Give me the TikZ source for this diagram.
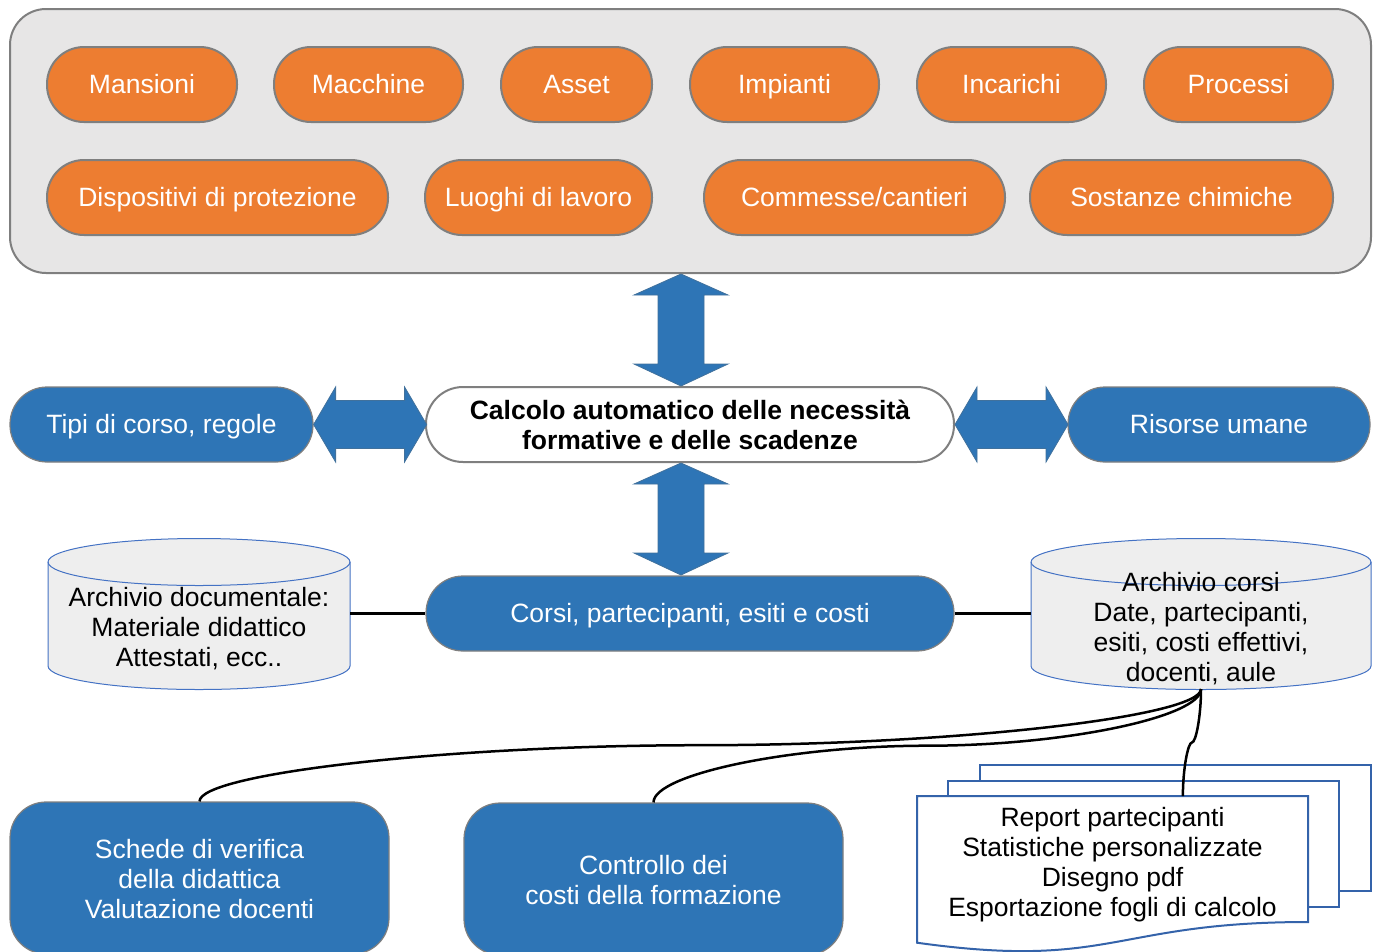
\documentclass[tikz,border=0pt]{standalone}
\usepackage{fontspec}
\setmainfont{Liberation Sans}
\usetikzlibrary{calc}
\definecolor{orangeF}{HTML}{ED7D31}
\definecolor{blueF}{HTML}{2E75B6}
\definecolor{grayB}{HTML}{7F7F7F}
\definecolor{boxF}{HTML}{E7E6E6}
\definecolor{cylF}{HTML}{EEEEEE}
\definecolor{cylB}{HTML}{4472C4}
\definecolor{docB}{HTML}{3463AA}
\definecolor{arrB}{HTML}{41719C}
\newcommand{\txtstrut}{\rule[-6pt]{0pt}{30.8pt}}
\newcommand{\mts}{\rule[-6pt]{0pt}{32.8pt}}
\begin{document}
\begin{tikzpicture}[x=1pt,y=1pt,
  txt/.style={font=\fontsize{26.5}{30}\selectfont, align=center, execute at begin node=\txtstrut, execute at end node=\txtstrut},
  opill/.style={txt, text=white, fill=orangeF, draw=grayB, line width=2pt, rounded corners=37pt, minimum height=75pt, inner sep=0pt},
  bpill/.style={txt, text=white, fill=blueF, draw=grayB, line width=1.2pt, rounded corners=37pt, minimum height=75pt, inner sep=0pt},
  wpill/.style={txt, font=\fontsize{26.5}{30}\selectfont\bfseries, fill=white, draw=grayB, line width=2pt, rounded corners=37pt, minimum height=75pt, inner sep=0pt},
  bbox/.style={txt, text=white, fill=blueF, draw=grayB, line width=1.2pt, rounded corners=36pt, minimum width=379pt, minimum height=152pt, inner sep=0pt},
  blockarrow/.style={fill=blueF, draw=arrB, line width=0.8pt, line join=miter},
  conn/.style={draw=black, line width=2.2pt},
  cyl/.style={fill=cylF, draw=cylB, line width=1pt},
  docshape/.style={fill=white, draw=docB, line width=2pt},
  holder/.style={inner sep=0pt, outer sep=0pt}]
\useasboundingbox (0,0) rectangle (1379,-951);

% top group box
\node[holder, fill=boxF, draw=grayB, line width=2pt, rounded corners=36pt, minimum width=1361pt, minimum height=264pt] (topbox) at (690.5,-141) {};

% orange pills
\node[opill, minimum width=190pt] (mansioni) at (142,-84.5) {Mansioni};
\node[opill, minimum width=189pt] (macchine) at (368.5,-84.5) {Macchine};
\node[opill, minimum width=151pt] (asset) at (576.5,-84.5) {Asset};
\node[opill, minimum width=189pt] (impianti) at (784.5,-84.5) {Impianti};
\node[opill, minimum width=189pt] (incarichi) at (1011.5,-84.5) {Incarichi};
\node[opill, minimum width=189pt] (processi) at (1238.5,-84.5) {Processi};
\node[opill, minimum width=341pt] (dispositivi) at (217.5,-197.5) {Dispositivi di protezione};
\node[opill, minimum width=227pt] (luoghi) at (538.5,-197.5) {Luoghi di lavoro};
\node[opill, minimum width=301pt] (commesse) at (854.5,-197.5) {Commesse/cantieri};
\node[opill, minimum width=303pt] (sostanze) at (1181.5,-197.5) {Sostanze chimiche};

% middle row
\node[bpill, minimum width=303pt] (tipi) at (161.5,-424.5) {Tipi di corso, regole};
\node[wpill, minimum width=528pt] (calc) at (690,-424.5) {\mts Calcolo automatico delle necessità\\formative e delle scadenze};
\node[bpill, minimum width=302pt] (risorse) at (1219,-424.5) {Risorse umane};
\node[bpill, minimum width=528pt] (corsi) at (690,-613.5) {Corsi, partecipanti, esiti e costi};

% block arrows
\coordinate (va1) at (681,-274);
\coordinate (va2) at (681,-463);
\path[blockarrow] (va1) -- +(47,-21) -- +(23,-21) -- +(23,-90) -- +(47,-90) -- +(0,-112) -- +(-47,-90) -- +(-23,-90) -- +(-23,-21) -- +(-47,-21) -- cycle;
\path[blockarrow] (va2) -- +(47,-21) -- +(23,-21) -- +(23,-90) -- +(47,-90) -- +(0,-112) -- +(-47,-90) -- +(-23,-90) -- +(-23,-21) -- +(-47,-21) -- cycle;
\path[blockarrow] (tipi.east) -- +(22,37.5) -- +(22,24) -- +(91,24) -- +(91,37.5) -- +(113,0) -- +(91,-37.5) -- +(91,-24) -- +(22,-24) -- +(22,-37.5) -- cycle;
\path[blockarrow] (calc.east) -- +(22,37.5) -- +(22,24) -- +(91,24) -- +(91,37.5) -- +(113,0) -- +(91,-37.5) -- +(91,-24) -- +(22,-24) -- +(22,-37.5) -- cycle;

% left cylinder
\path[cyl] (48,-562) -- (48,-666) arc[start angle=180,end angle=360,x radius=151,y radius=23.5] -- (350,-562) arc[start angle=0,end angle=180,x radius=151,y radius=23.5] -- cycle;
\draw[draw=cylB, line width=1pt] (48,-562) arc[start angle=180,end angle=360,x radius=151,y radius=23.5];
\node[holder, minimum width=302pt, minimum height=151pt] (archdoc) at (199,-613.5) {};
\node[txt, inner sep=0pt] (archdoctxt) at (199,-626) {\mts Archivio documentale:\\Materiale didattico\\Attestati, ecc..};

% right cylinder
\path[cyl] (1031,-562) -- (1031,-666) arc[start angle=180,end angle=360,x radius=170,y radius=23.5] -- (1371,-562) arc[start angle=0,end angle=180,x radius=170,y radius=23.5] -- cycle;
\draw[draw=cylB, line width=1pt] (1031,-562) arc[start angle=180,end angle=360,x radius=170,y radius=23.5];
\node[holder, minimum width=340pt, minimum height=151pt] (archcorsi) at (1201,-613.5) {};
\node[txt, inner sep=0pt] (archcorsitxt) at (1201,-626) {\mts Archivio corsi\\Date, partecipanti,\\esiti, costi effettivi,\\docenti, aule};

% straight connectors
\draw[conn] (archdoc.east) -- (corsi.west);
\draw[conn] (corsi.east) -- (archcorsi.west);

% bottom boxes
\node[bbox] (schede) at (199.5,-878) {\mts Schede di verifica\\della didattica\\Valutazione docenti};
\node[bbox] (controllo) at (653.5,-879) {\mts Controllo dei\\costi della formazione};

% document stack
\path[docshape] (980,-765) rectangle (1371,-891);
\path[docshape] (948,-781) rectangle (1339,-907);
\path[docshape] (917,-796) -- (1308,-796) -- (1308,-922) .. controls (1112.5,-922) and (1112.5,-970) .. (917,-942.7) -- cycle;
\node[txt, holder, minimum width=391pt, minimum height=130pt] (docfront) at (1112.5,-861) {\mts Report partecipanti\\Statistiche personalizzate\\Disegno pdf\\Esportazione fogli di calcolo};
\coordinate (docin) at ($(docfront.north west)!0.68!(docfront.north east)$);

% curved connectors
\coordinate (m1) at ($(archcorsi.south)!0.5!(schede.north)$);
\coordinate (m2) at ($(archcorsi.south)!0.5!(controllo.north)$);
\coordinate (m3) at ($(archcorsi.south)!0.5!(docin)$);
\draw[conn, line width=2.5pt] (archcorsi.south) .. controls +(0,-28) and +(250,0) .. (m1) .. controls +(-250,0) and +(0,28) .. (schede.north);
\draw[conn, line width=2.5pt] (archcorsi.south) .. controls +(0,-28) and +(137,0) .. (m2) .. controls +(-137,0) and +(0,28) .. (controllo.north);
\draw[conn, line width=2.5pt] (archcorsi.south) .. controls +(0,-27) and +(4,0) .. (m3) .. controls +(-4,0) and +(0,27) .. (docin);
\end{tikzpicture}
\end{document}
